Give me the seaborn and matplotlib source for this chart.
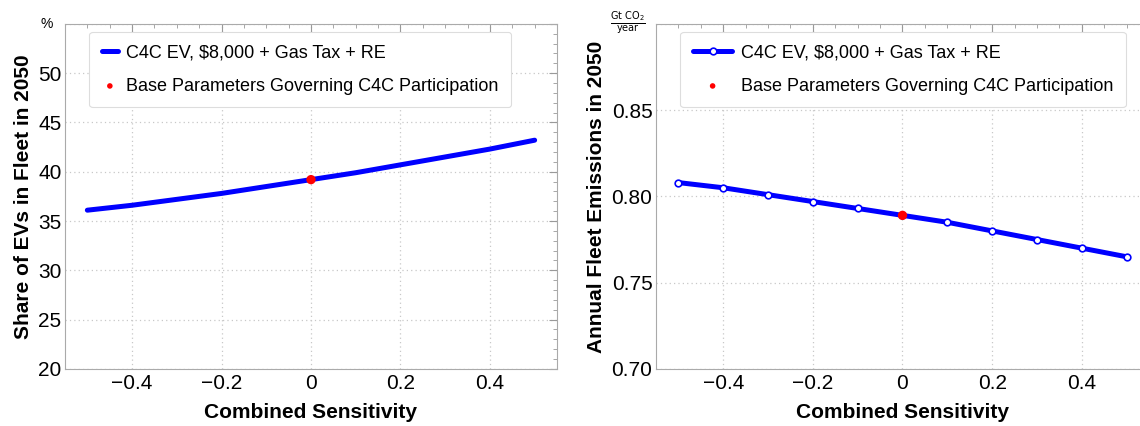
import matplotlib.pyplot as plt
import matplotlib.ticker as mticker
import pandas as pd
import seaborn as sns

# values
sensitivity = [-0.5, -0.4, -0.3, -0.2, -0.1, 0.0, 0.1, 0.2, 0.3, 0.4, 0.5]
ev_share = [36.1, 36.6, 37.2, 37.8, 38.5, 39.2, 39.9, 40.7, 41.5, 42.3, 43.2]
emissions = [0.808, 0.805, 0.801, 0.797, 0.793, 0.789, 0.785, 0.780, 0.775, 0.770, 0.765]
base_x = [0.0]
base_share = [39.2]
base_emis = [0.789]

series_label = "C4C EV, $8,000 + Gas Tax + RE"
base_label = "Base Parameters Governing C4C Participation"

df = pd.DataFrame({"x": sensitivity, "share": ev_share, "emis": emissions})
base = pd.DataFrame({"x": base_x, "share": base_share, "emis": base_emis})

sns.set_style("white", {"text.color": "black", "axes.labelcolor": "black",
                        "xtick.color": "black", "ytick.color": "black"})
plt.rcParams['font.family'] = ['Liberation Sans', 'DejaVu Sans']

fig = plt.figure(figsize=(11.4, 4.26), dpi=100)
ax1 = fig.add_axes([0.057, 0.134, 0.4316, 0.81])
ax2 = fig.add_axes([0.5754, 0.134, 0.4325, 0.81])


def style_axis(ax, ylim, major, minor, fmt):
    ax.set_xlim(-0.55, 0.55)
    ax.set_ylim(*ylim)
    ax.xaxis.set_major_locator(mticker.MultipleLocator(0.2))
    ax.xaxis.set_minor_locator(mticker.MultipleLocator(0.05))
    ax.yaxis.set_major_locator(mticker.MultipleLocator(major))
    ax.yaxis.set_minor_locator(mticker.MultipleLocator(minor))
    ax.xaxis.set_major_formatter(mticker.FuncFormatter(
        lambda v, p: "0" if abs(v) < 1e-9 else f"{v:.1f}".replace("-", "\u2212")))
    ax.yaxis.set_major_formatter(mticker.FuncFormatter(
        lambda v, p: "" if v > ylim[1] - major * 0.5 else fmt % v))
    ax.tick_params(which="both", direction="in", color="#999999", labelcolor="black",
                   top=True, right=True, labelsize=15)
    ax.tick_params(axis="x", pad=4)
    ax.tick_params(axis="y", pad=2.5)
    ax.tick_params(which="major", length=6, width=0.8)
    ax.tick_params(which="minor", length=3, width=0.6)
    ax.grid(True, which="major", linestyle=(0, (1, 2.5)), color="#c8c8c8", linewidth=0.9)
    for s in ax.spines.values():
        s.set_color("#aaaaaa")
        s.set_linewidth(0.8)
    ax.set_xlabel("Combined Sensitivity", fontsize=15, fontweight="bold", labelpad=7)


# left panel: share of EVs
sns.lineplot(data=df, x="x", y="share", ax=ax1, color="blue", linewidth=3.6,
             label=series_label, zorder=3)
sns.scatterplot(data=base, x="x", y="share", ax=ax1, color="red", s=45,
                edgecolor="none", label=base_label, zorder=4)
style_axis(ax1, (20, 55), 5, 1, "%d")
ax1.set_ylabel("Share of EVs in Fleet in 2050", fontsize=15, fontweight="bold", labelpad=4)
ax1.text(-0.025, 1.0, "%", transform=ax1.transAxes, ha="right", va="center", fontsize=10)

# right panel: fleet emissions
sns.lineplot(data=df, x="x", y="emis", ax=ax2, color="blue", linewidth=3.6,
             marker="o", markersize=4.8, markerfacecolor="white",
             markeredgecolor="blue", markeredgewidth=1.2,
             label=series_label, zorder=3)
sns.scatterplot(data=base, x="x", y="emis", ax=ax2, color="red", s=45,
                edgecolor="none", label=base_label, zorder=4)
style_axis(ax2, (0.70, 0.90), 0.05, 0.01, "%.2f")
ax2.set_ylabel("Annual Fleet Emissions in 2050", fontsize=15, fontweight="bold", labelpad=4)
ax2.text(-0.057, 1.0, r"$\frac{\mathrm{Gt\ CO_2}}{\mathrm{year}}$", transform=ax2.transAxes,
         ha="center", va="center", fontsize=10)

for ax, hl in ((ax1, 0.9), (ax2, 2.2)):
    leg = ax.legend(loc="upper left", bbox_to_anchor=(0.049, 0.977), fontsize=13,
                    frameon=True, fancybox=True, borderpad=0.7, labelspacing=0.9,
                    borderaxespad=0, handlelength=hl, handletextpad=0.45)
    leg.legend_handles[1].set_sizes([16])
    leg.get_frame().set_edgecolor("#dddddd")
    leg.get_frame().set_linewidth(0.8)
    leg.get_frame().set_alpha(1)

fig.savefig("out.png", dpi=100)
